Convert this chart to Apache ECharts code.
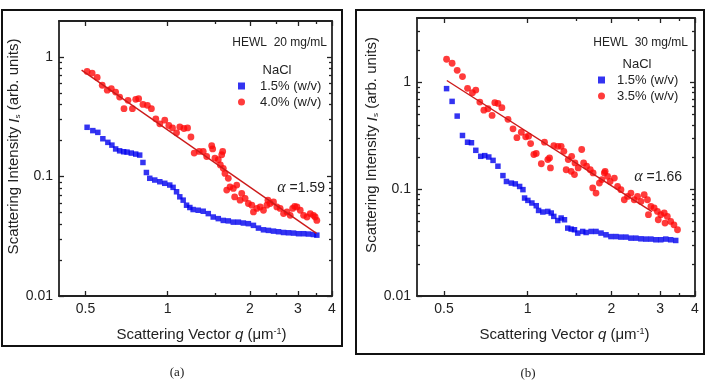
<!DOCTYPE html>
<html><head><meta charset="utf-8">
<script src="https://cdn.jsdelivr.net/npm/echarts@6/dist/echarts.min.js"></script>
<style>html,body{margin:0;padding:0;background:#fff}#c{width:707px;height:386px}</style>
</head><body><div id="c"></div>
<script>
// ---------- tick labels ----------
const qTicks = [0.5, 1, 2, 3, 4];
const qMinorTicks = [1.5, 2.5, 3.5];
const iTicks = [0.01, 0.1, 1];
const iMinorTicksA = [0.02,0.03,0.04,0.05,0.06,0.07,0.08,0.09,0.2,0.3,0.4,0.5,0.6,0.7,0.8,0.9];
const iMinorTicksB = [0.02,0.03,0.04,0.05,0.06,0.07,0.08,0.09,0.2,0.3,0.4,0.5,0.6,0.7,0.8,0.9,2,3];

// ---------- panel (a): HEWL 20 mg/mL ----------
const qA_15 = [0.507,0.532,0.555,0.579,0.604,0.625,0.645,0.667,0.690,0.710,0.736,0.764,0.790,0.812,0.836,0.860,0.897,0.936,0.976,1.018,1.047,1.078,1.108,1.140,1.173,1.206,1.240,1.294,1.350,1.409,1.469,1.533,1.599,1.668,1.740,1.816,1.894,1.976,2.062,2.151,2.244,2.340,2.442,2.548,2.658,2.772,2.892,3.017,3.148,3.280,3.420,3.520];
const IA_15 = [0.258,0.242,0.234,0.207,0.193,0.183,0.170,0.164,0.161,0.160,0.157,0.154,0.151,0.131,0.108,0.0966,0.0934,0.0904,0.0877,0.0848,0.0811,0.0745,0.0676,0.0634,0.0575,0.0550,0.0529,0.0522,0.0512,0.0489,0.0458,0.0444,0.0429,0.0425,0.0415,0.0415,0.0408,0.0403,0.0390,0.0370,0.0358,0.0354,0.0349,0.0345,0.0340,0.0338,0.0336,0.0332,0.0332,0.0330,0.0327,0.0323];
const qA_40 = [0.507,0.529,0.552,0.576,0.601,0.622,0.645,0.667,0.692,0.716,0.743,0.764,0.783,0.812,0.843,0.872,0.905,0.936,0.976,1.010,1.042,1.078,1.108,1.147,1.183,1.217,1.251,1.305,1.350,1.390,1.450,1.462,1.490,1.533,1.560,1.578,1.591,1.599,1.622,1.646,1.668,1.693,1.740,1.760,1.791,1.842,1.868,1.922,1.976,2.034,2.062,2.122,2.183,2.244,2.309,2.330,2.374,2.442,2.512,2.583,2.658,2.736,2.812,2.870,2.920,2.976,3.060,3.148,3.240,3.330,3.420,3.470,3.520];
const IA_40 = [0.757,0.733,0.674,0.580,0.527,0.544,0.509,0.462,0.369,0.434,0.369,0.442,0.448,0.401,0.394,0.369,0.304,0.276,0.296,0.267,0.255,0.232,0.260,0.252,0.255,0.214,0.157,0.162,0.162,0.147,0.181,0.170,0.1425,0.138,0.125,0.152,0.162,0.117,0.106,0.0769,0.0966,0.082,0.0795,0.0674,0.0848,0.0634,0.0721,0.0655,0.0594,0.0575,0.0505,0.054,0.0556,0.0522,0.0575,0.0634,0.0594,0.0613,0.0556,0.054,0.0489,0.0505,0.0473,0.054,0.0563,0.0556,0.0522,0.0473,0.0458,0.0489,0.0473,0.0458,0.0429];
const qA_fit = [0.484, 3.51];
const IA_fit = [0.777, 0.0334];

// ---------- panel (b): HEWL 30 mg/mL ----------
const qB_15 = [0.511,0.535,0.558,0.583,0.608,0.628,0.651,0.678,0.701,0.725,0.751,0.782,0.815,0.839,0.874,0.903,0.936,0.962,0.975,1.002,1.036,1.074,1.095,1.134,1.182,1.216,1.242,1.284,1.320,1.357,1.394,1.434,1.474,1.514,1.578,1.623,1.692,1.762,1.837,1.914,1.994,2.079,2.166,2.258,2.353,2.452,2.556,2.663,2.776,2.893,3.013,3.140,3.270,3.410];
const IB_15 = [0.873,0.663,0.483,0.318,0.275,0.272,0.231,0.203,0.206,0.200,0.186,0.164,0.134,0.118,0.114,0.112,0.106,0.099,0.0826,0.0785,0.0742,0.070,0.0632,0.0611,0.0619,0.0598,0.0556,0.0509,0.0537,0.0517,0.0432,0.0423,0.0417,0.0388,0.0402,0.0393,0.0402,0.0402,0.0388,0.0374,0.0360,0.0360,0.0356,0.0356,0.0348,0.0348,0.0343,0.0341,0.0341,0.0336,0.0336,0.0341,0.0336,0.0331];
const qB_35 = [0.511,0.535,0.558,0.583,0.608,0.633,0.651,0.673,0.696,0.720,0.745,0.762,0.782,0.808,0.850,0.886,0.915,0.949,0.984,1.008,1.025,1.053,1.074,1.120,1.150,1.182,1.199,1.208,1.242,1.284,1.320,1.350,1.376,1.400,1.434,1.440,1.474,1.480,1.520,1.565,1.590,1.630,1.680,1.714,1.720,1.762,1.812,1.850,1.888,1.900,1.940,1.980,2.051,2.107,2.166,2.227,2.288,2.353,2.418,2.485,2.556,2.626,2.698,2.720,2.776,2.852,2.930,2.950,3.013,3.100,3.120,3.180,3.270,3.360,3.460];
const IB_35 = [1.644,1.508,1.296,1.131,0.878,0.800,0.847,0.653,0.549,0.566,0.490,0.645,0.635,0.579,0.450,0.367,0.303,0.341,0.309,0.313,0.267,0.211,0.216,0.173,0.275,0.189,0.196,0.158,0.256,0.252,0.252,0.226,0.152,0.189,0.147,0.203,0.137,0.176,0.158,0.235,0.176,0.164,0.152,0.1026,0.142,0.092,0.114,0.123,0.142,0.147,0.132,0.118,0.127,0.106,0.099,0.0796,0.0856,0.092,0.0796,0.0856,0.0768,0.0888,0.0796,0.0577,0.069,0.0666,0.0619,0.0517,0.0577,0.0598,0.0481,0.0556,0.0499,0.0464,0.0417];
const qB_fit = [0.512, 2.80];
const IB_fit = [1.04, 0.0616];

// ---------- chart ----------
const FONT = "'Liberation Sans', Arial, sans-serif";
const INK = '#222';
const lg = Math.log10;
const pairs = (xs, ys) => xs.map((x, i) => [x, ys[i]]);
const fmt = v => String(Number(Math.pow(10, v).toPrecision(4)));

const panels = [
  { grid: {left: 59, top: 21, width: 273, height: 275}, yMax: 2, yMinor: iMinorTicksA,
    s1: ['1.5% (w/v)', qA_15, IA_15], s2: ['4.0% (w/v)', qA_40, IA_40], fit: [qA_fit, IA_fit],
    legend: {left: 238, top: 79, pad: 10} },
  { grid: {left: 417, top: 18, width: 278, height: 278}, yMax: 4, yMinor: iMinorTicksB,
    s1: ['1.5% (w/v)', qB_15, IB_15], s2: ['3.5% (w/v)', qB_35, IB_35], fit: [qB_fit, IB_fit],
    legend: {left: 598, top: 73, pad: 7} }
];

const grids = [], xAxes = [], yAxes = [], series = [], legends = [];
const lineSt = {color: INK, width: 1.8};
const tickSt = {color: INK, width: 1.3};

panels.forEach((p, g) => {
  grids.push(Object.assign({outerBoundsMode: 'none', containLabel: false}, p.grid));
  const xi = xAxes.length, yi = yAxes.length;
  const xMin = lg(0.4), xMax = lg(4), yMin = lg(0.01), yMax = lg(p.yMax);
  // data axes (log)
  xAxes.push({type: 'log', logBase: 10, gridIndex: g, min: 0.4, max: 4, show: false});
  yAxes.push({type: 'log', logBase: 10, gridIndex: g, min: 0.01, max: p.yMax, show: false});
  // visible tick axes
  const mk = (pos, mn, mx, vals, len, line, labels, extra) => Object.assign({
    type: 'value', gridIndex: g, position: pos, min: mn, max: mx,
    axisLine: {show: line, onZero: false, lineStyle: lineSt},
    axisTick: {show: true, inside: true, length: len, customValues: vals.map(lg), lineStyle: tickSt},
    axisLabel: labels ? {show: true, customValues: labels.map(lg), formatter: fmt, margin: 6,
      fontSize: 14, color: INK, fontFamily: FONT, showMinLabel: true, showMaxLabel: true} : {show: false},
    splitLine: {show: false}
  }, extra || {});
  xAxes.push(mk('bottom', xMin, xMax, qTicks, 5, true, qTicks, {
    name: 'Scattering Vector {i|q} (\u03bcm{sup|-1})', nameLocation: 'middle', nameGap: 31,
    nameTextStyle: {fontSize: 15, fontFamily: FONT, color: INK, padding: [0, 0, 0, g ? 17 : 12],
      rich: {i: {fontStyle: 'italic', fontSize: 15, fontFamily: FONT, color: INK},
             sup: {fontSize: 9, fontFamily: FONT, color: INK, verticalAlign: 'top'}}}
  }));
  xAxes.push(mk('bottom', xMin, xMax, qMinorTicks, 3, false, null));
  xAxes.push(mk('top', xMin, xMax, qTicks, 5, true, null));
  xAxes.push(mk('top', xMin, xMax, qMinorTicks, 3, false, null));
  yAxes.push(mk('left', yMin, yMax, iTicks, 5, true, iTicks, {
    name: 'Scattering Intensity {i|I}{s|s} (arb. units)', nameLocation: 'middle', nameGap: 33,
    nameTextStyle: {fontSize: 15, fontFamily: FONT, color: INK, padding: [0, 0, 0, 24],
      rich: {i: {fontStyle: 'italic', fontSize: 15, fontFamily: FONT, color: INK},
             s: {fontSize: 8, fontFamily: FONT, color: INK, verticalAlign: 'bottom'}}}
  }));
  yAxes.push(mk('left', yMin, yMax, p.yMinor, 3, false, null));
  yAxes.push(mk('right', yMin, yMax, iTicks, 5, true, null));
  yAxes.push(mk('right', yMin, yMax, p.yMinor, 3, false, null));

  series.push({type: 'scatter', name: p.s1[0], xAxisIndex: xi, yAxisIndex: yi, symbol: 'rect', symbolSize: 5.5,
    itemStyle: {color: '#0000ee'}, data: pairs(p.s1[1], p.s1[2]), silent: true});
  series.push({type: 'scatter', name: p.s2[0], xAxisIndex: xi, yAxisIndex: yi, symbol: 'circle', symbolSize: 6.8,
    itemStyle: {color: '#ff0a0a'}, data: pairs(p.s2[1], p.s2[2]), silent: true});
  series.push({type: 'line', xAxisIndex: xi, yAxisIndex: yi, symbol: 'none', silent: true,
    lineStyle: {color: '#cc1a1a', width: 1.4}, data: pairs(p.fit[0], p.fit[1]), z: 3});

  legends.push({orient: 'vertical', left: p.legend.left, top: p.legend.top, data: [p.s1[0], p.s2[0]],
    itemWidth: 7, itemHeight: 7, itemGap: 2, selectedMode: false, padding: 0,
    textStyle: {fontSize: 13, fontFamily: FONT, color: INK, lineHeight: 14, padding: [0, 0, 0, p.legend.pad]}});
});

const txt = (x, y, text, size, align, extra) => ({type: 'text', x: x, y: y, silent: true,
  style: Object.assign({text: text, fontSize: size, fontFamily: FONT, fill: INK, align: align, verticalAlign: 'middle'}, extra || {})});
const alphaRich = {a: {fontStyle: 'italic', fontFamily: "'Liberation Serif', serif", fontSize: 16, fill: INK}};

const graphic = [
  {type: 'rect', shape: {x: 2, y: 10, width: 340, height: 336}, style: {fill: 'none', stroke: '#111', lineWidth: 2}, silent: true},
  {type: 'rect', shape: {x: 356, y: 10, width: 348, height: 344}, style: {fill: 'none', stroke: '#111', lineWidth: 2}, silent: true},
  txt(327, 43, 'HEWL  20 mg/mL', 12, 'right'),
  txt(277, 70, 'NaCl', 13, 'center'),
  txt(325, 188, '{a|\u03b1} =1.59', 14, 'right', {rich: alphaRich}),
  txt(688, 43, 'HEWL  30 mg/mL', 12, 'right'),
  txt(637, 64, 'NaCl', 13, 'center'),
  txt(682, 177, '{a|\u03b1} =1.66', 14, 'right', {rich: alphaRich}),
  txt(177, 373, '(a)', 13, 'center', {fontFamily: "'Liberation Serif', serif"}),
  txt(528, 374, '(b)', 13, 'center', {fontFamily: "'Liberation Serif', serif"})
];

const chart = echarts.init(document.getElementById('c'), null, {renderer: 'canvas'});
chart.setOption({
  animation: false,
  backgroundColor: '#fff',
  grid: grids, xAxis: xAxes, yAxis: yAxes, series: series, legend: legends, graphic: graphic
});
</script>
</body></html>
